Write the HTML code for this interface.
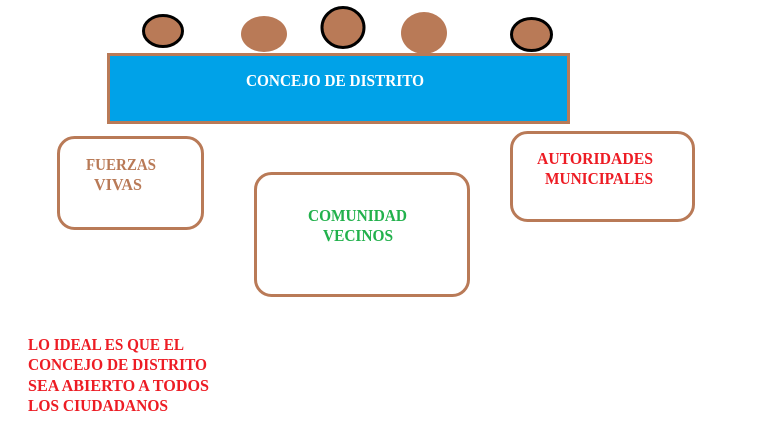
<!DOCTYPE html>
<html><head><meta charset="utf-8"><style>
html,body{margin:0;padding:0;background:#fff;width:758px;height:445px;overflow:hidden}
svg{display:block}
text{font-family:"Liberation Serif",serif;font-weight:bold;font-size:17px}
</style></head><body>
<svg width="758" height="445" viewBox="0 0 758 445" xmlns="http://www.w3.org/2000/svg">
<rect x="0" y="0" width="758" height="445" fill="#fff"/>
<ellipse cx="163" cy="31" rx="19.5" ry="15.5" fill="#B97A57" stroke="#000" stroke-width="3"/>
<ellipse cx="264" cy="34" rx="23" ry="18" fill="#B97A57"/>
<ellipse cx="343" cy="27.5" rx="21" ry="20" fill="#B97A57" stroke="#000" stroke-width="3"/>
<ellipse cx="424" cy="33" rx="23" ry="21" fill="#B97A57"/>
<ellipse cx="531.5" cy="34.5" rx="20" ry="16" fill="#B97A57" stroke="#000" stroke-width="3"/>
<rect x="108.5" y="54.5" width="460" height="68" fill="#00A2E8" stroke="#B97A57" stroke-width="3"/>
<text x="246" y="86" fill="#fff" textLength="178" lengthAdjust="spacingAndGlyphs">CONCEJO DE DISTRITO</text>
<rect x="58.5" y="137.5" width="144" height="91" rx="16" fill="none" stroke="#B97A57" stroke-width="3"/>
<text x="86" y="170" fill="#B97A57" textLength="70" lengthAdjust="spacingAndGlyphs">FUERZAS</text>
<text x="94" y="190" fill="#B97A57" textLength="48" lengthAdjust="spacingAndGlyphs">VIVAS</text>
<rect x="255.5" y="173.5" width="213" height="122" rx="16" fill="none" stroke="#B97A57" stroke-width="3"/>
<text x="308" y="221" fill="#22B14C" textLength="99" lengthAdjust="spacingAndGlyphs">COMUNIDAD</text>
<text x="323" y="241" fill="#22B14C" textLength="70" lengthAdjust="spacingAndGlyphs">VECINOS</text>
<rect x="511.5" y="132.5" width="182" height="88" rx="16" fill="none" stroke="#B97A57" stroke-width="3"/>
<text x="537" y="164" fill="#ED1C24" textLength="116" lengthAdjust="spacingAndGlyphs">AUTORIDADES</text>
<text x="545" y="184" fill="#ED1C24" textLength="108" lengthAdjust="spacingAndGlyphs">MUNICIPALES</text>
<text x="28" y="350" fill="#ED1C24" textLength="156" lengthAdjust="spacingAndGlyphs">LO IDEAL ES QUE EL</text>
<text x="28" y="370" fill="#ED1C24" textLength="179" lengthAdjust="spacingAndGlyphs">CONCEJO DE DISTRITO</text>
<text x="28" y="391" fill="#ED1C24" textLength="181" lengthAdjust="spacingAndGlyphs">SEA ABIERTO A TODOS</text>
<text x="28" y="411" fill="#ED1C24" textLength="140" lengthAdjust="spacingAndGlyphs">LOS CIUDADANOS</text>
</svg>
</body></html>
